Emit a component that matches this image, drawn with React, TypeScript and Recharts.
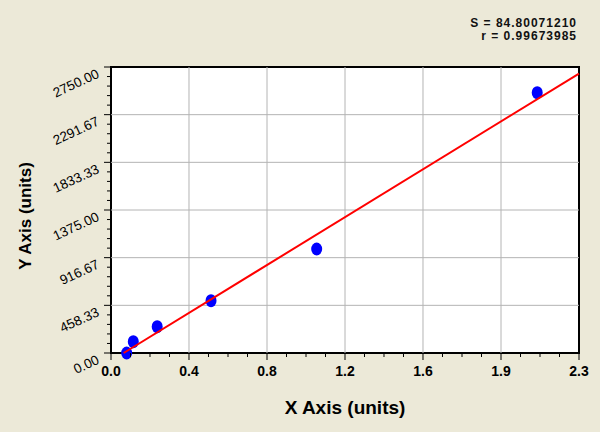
import { ReferenceArea, ReferenceLine, Scatter, ScatterChart, XAxis, YAxis } from 'recharts';

// standard points
const xValues = [0.078, 0.111, 0.23, 0.498, 1.024, 2.122];
const yValues = [0, 109, 253, 503, 1000, 2503];

// regression line end points
const fitX = [0.063, 2.33];
const fitY = [0, 2687];

const xTicks = [0, 0.3883, 0.7767, 1.165, 1.5533, 1.9417, 2.33];
const xTickLabels = ['0.0', '0.4', '0.8', '1.2', '1.6', '1.9', '2.3'];
const yTicks = [0, 458.33, 916.67, 1375, 1833.33, 2291.67, 2750];
const yTickLabels = ['0.00', '458.33', '916.67', '1375.00', '1833.33', '2291.67', '2750.00'];

const statLines = ['S = 84.80071210', 'r = 0.99673985'];

const points = xValues.map((x, i) => ({ x, y: yValues[i] }));
const fitLine = fitX.map((x, i) => ({ x, y: fitY[i] }));

// major ticks plus minor ones splitting each interval
const withMinor = (ticks: number[], parts: number) =>
  ticks.flatMap((t, i) => {
    if (i === ticks.length - 1) return [t];
    const step = (ticks[i + 1] - t) / parts;
    return Array.from({ length: parts }, (_, k) => t + step * k);
  });
const xAllTicks = withMinor(xTicks, 4);
const yAllTicks = withMinor(yTicks, 5);

const FONT = '"Liberation Sans", Arial, sans-serif';
const TICK = 7;

const XTick = ({ x, y, payload }: any) => {
  const major = xTicks.indexOf(payload.value);
  const y0 = y - TICK;
  return (
    <g>
      <line x1={x} x2={x} y1={y0} y2={y0 + (major >= 0 ? 7 : 4)} stroke="#000" />
      {major >= 0 && (
        <text x={x} y={y0 + 23} textAnchor="middle" fontSize={14} fontWeight="bold" fill="#000" fontFamily={FONT}>
          {xTickLabels[major]}
        </text>
      )}
    </g>
  );
};

const YTick = ({ x, y, payload }: any) => {
  const major = yTicks.indexOf(payload.value);
  const x0 = x + TICK;
  const tx = x0 - 11;
  const ty = y + 10;
  return (
    <g>
      <line x1={x0 - (major >= 0 ? 7 : 4)} x2={x0} y1={y} y2={y} stroke="#000" />
      {major >= 0 && (
        <text
          x={tx}
          y={ty}
          textAnchor="end"
          fontSize={13.5}
          fill="#000"
          fontFamily={FONT}
          transform={`rotate(-25, ${tx}, ${ty})`}
        >
          {yTickLabels[major]}
        </text>
      )}
    </g>
  );
};

const Empty = () => <g />;

const Dot = ({ cx, cy }: any) => <ellipse cx={cx} cy={cy} rx={5.5} ry={6.5} fill="#0000ff" />;

export default function App() {
  return (
    <div
      style={{
        position: 'absolute',
        left: 0,
        top: 0,
        width: 600,
        height: 432,
        background: '#ECE9D8',
        fontFamily: FONT,
      }}
    >
      <ScatterChart width={600} height={432} margin={{ top: 67, right: 21, bottom: 0, left: 0 }}>
        <XAxis
          type="number"
          dataKey="x"
          domain={[0, 2.33]}
          ticks={xAllTicks}
          interval={0}
          height={79}
          axisLine={false}
          tickLine={false}
          tickSize={TICK}
          tickMargin={0}
          tick={XTick}
        />
        <YAxis
          type="number"
          dataKey="y"
          domain={[0, 2750]}
          ticks={yAllTicks}
          interval={0}
          width={111}
          axisLine={false}
          tickLine={false}
          tickSize={TICK}
          tickMargin={0}
          tick={YTick}
        />
        <ReferenceArea x1={0} x2={2.33} y1={0} y2={2750} fill="#fff" fillOpacity={1} stroke="none" />
        {xTicks.slice(1, -1).map((t) => (
          <ReferenceLine key={`gx${t}`} x={t} stroke="#b4b4b4" />
        ))}
        {yTicks.slice(1, -1).map((t) => (
          <ReferenceLine key={`gy${t}`} y={t} stroke="#b4b4b4" />
        ))}
        <ReferenceArea x1={0} x2={2.33} y1={0} y2={2750} fill="none" stroke="#000" strokeWidth={2} />
        <Scatter data={points} shape={Dot} isAnimationActive={false} />
        <Scatter data={fitLine} shape={Empty} line={{ stroke: '#ff0000', strokeWidth: 2 }} isAnimationActive={false} />
      </ScatterChart>

      {statLines.map((s, i) => (
        <div
          key={s}
          style={{
            position: 'absolute',
            right: 23,
            top: 17 + i * 13,
            fontSize: 12,
            lineHeight: '12px',
            letterSpacing: 1,
            fontWeight: 'bold',
            color: '#111',
            whiteSpace: 'nowrap',
          }}
        >
          {s}
        </div>
      ))}
      <div
        style={{
          position: 'absolute',
          left: 345,
          top: 408,
          transform: 'translate(-50%, -50%)',
          fontSize: 19,
          fontWeight: 'bold',
          whiteSpace: 'nowrap',
        }}
      >
        X Axis (units)
      </div>
      <div
        style={{
          position: 'absolute',
          left: 26,
          top: 216,
          transform: 'translate(-50%, -50%) rotate(-90deg)',
          fontSize: 17,
          fontWeight: 'bold',
          whiteSpace: 'nowrap',
        }}
      >
        Y Axis (units)
      </div>
    </div>
  );
}
